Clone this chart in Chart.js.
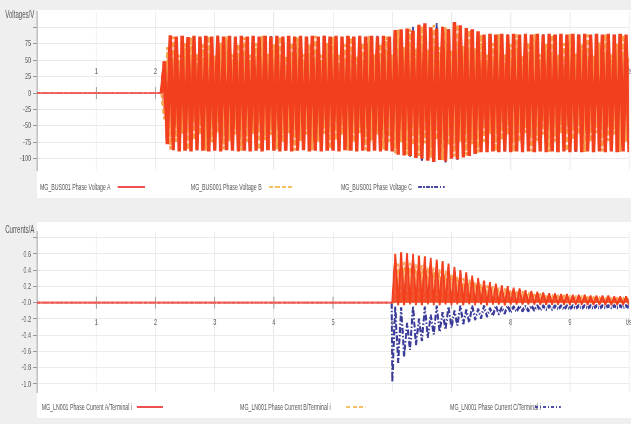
<!DOCTYPE html>
<html><head><meta charset="utf-8">
<script src="https://cdn.jsdelivr.net/npm/chart.js@4.4.1/dist/chart.umd.min.js"></script>
<style>
html,body{margin:0;padding:0;background:#efefef;width:631px;height:424px;overflow:hidden;}
#wrap{position:absolute;left:0;top:0;width:1088px;height:424px;transform:scaleX(0.579963);transform-origin:0 0;font-family:'Liberation Sans',Arial,sans-serif;color:#555;}
.panel{position:absolute;background:#fff;}
.lbl{position:absolute;font-size:9px;line-height:10px;white-space:nowrap;color:#555;}
.ttl{position:absolute;font-size:10.5px;line-height:12px;white-space:nowrap;color:#555;}
.sw{position:absolute;height:2px;}
.sA{background:#ee5050;}
.sB{background:repeating-linear-gradient(90deg,#f5c060 0 7px,rgba(255,255,255,0) 7px 11px);}
.sC{background:repeating-linear-gradient(90deg,#4a4aa8 0 6px,rgba(255,255,255,0) 6px 9px,#4a4aa8 9px 11px,rgba(255,255,255,0) 11px 14px);}
canvas{position:absolute;left:0;}
</style></head>
<body>
<div id="wrap">
  <div class="panel" style="left:64px;top:10px;width:1024px;height:188px;"></div>
  <div class="panel" style="left:64px;top:222px;width:1024px;height:196px;"></div>
  <div class="ttl" style="left:9px;top:8px;">Voltages/V</div>
  <div class="ttl" style="left:9px;top:223px;">Currents/A</div>
  <canvas id="cv" width="1088" height="200" style="top:0;"></canvas>
  <canvas id="ci" width="1088" height="206" style="top:218px;"></canvas>
  <div class="lbl" style="left:69px;top:182px;">MG_BUS001 Phase Voltage A</div>
  <div class="sw sA" style="left:203px;top:186px;width:47px;"></div>
  <div class="lbl" style="left:329px;top:182px;">MG_BUS001 Phase Voltage B</div>
  <div class="sw sB" style="left:464px;top:186px;width:43px;"></div>
  <div class="lbl" style="left:588px;top:182px;">MG_BUS001 Phase Voltage C</div>
  <div class="sw sC" style="left:721px;top:186px;width:46px;"></div>
  <div class="lbl" style="left:72px;top:402px;">MG_LN001 Phase Current A/Terminal i</div>
  <div class="sw sA" style="left:236px;top:406px;width:45px;"></div>
  <div class="lbl" style="left:414px;top:402px;">MG_LN001 Phase Current B/Terminal i</div>
  <div class="sw sB" style="left:597px;top:406px;width:33px;"></div>
  <div class="lbl" style="left:776px;top:402px;">MG_LN001 Phase Current C/Terminal i</div>
  <div class="sw sC" style="left:922px;top:406px;width:45px;"></div>
</div>
<script>
// ---------- data ----------
const xTicks = [1,2,3,4,5,6,7,8,9,10];
const yTicksV = [-100,-75,-50,-25,0,25,50,75,100];
const yTicksI = [-1.0,-0.8,-0.6,-0.4,-0.2,0,0.2,0.4,0.6,0.8];

const tV = [0,
2.10,2.15,2.20,2.25,2.30,2.35,2.40,2.45,2.50,2.55,2.60,2.65,2.70,2.75,2.80,2.85,2.90,2.95,
3.00,3.05,3.10,3.15,3.20,3.25,3.30,3.35,3.40,3.45,3.50,3.55,3.60,3.65,3.70,3.75,3.80,3.85,3.90,3.95,
4.00,4.05,4.10,4.15,4.20,4.25,4.30,4.35,4.40,4.45,4.50,4.55,4.60,4.65,4.70,4.75,4.80,4.85,4.90,4.95,
5.00,5.05,5.10,5.15,5.20,5.25,5.30,5.35,5.40,5.45,5.50,5.55,5.60,5.65,5.70,5.75,5.80,5.85,5.90,5.95,
6.00,6.05,6.10,6.15,6.20,6.25,6.30,6.35,6.40,6.45,6.50,6.55,6.60,6.65,6.70,6.75,6.80,6.85,6.90,6.95,
7.00,7.05,7.10,7.15,7.20,7.25,7.30,7.35,7.40,7.45,7.50,7.55,7.60,7.65,7.70,7.75,7.80,7.85,7.90,7.95,
8.00,8.05,8.10,8.15,8.20,8.25,8.30,8.35,8.40,8.45,8.50,8.55,8.60,8.65,8.70,8.75,8.80,8.85,8.90,8.95,
9.00,9.05,9.10,9.15,9.20,9.25,9.30,9.35,9.40,9.45,9.50,9.55,9.60,9.65,9.70,9.75,9.80,9.85,9.90,9.95,
10.00];

const vA = [0,
0,48,-78,88,
-87,86,-89,87,-88,85,-89,87,-87,86,
-88,87,-89,86,-88,87,-89,86,-87,87,
-88,86,-89,87,-88,86,-89,87,-88,86,
-89,87,-87,86,-88,87,-89,86,-88,87,
-89,86,-88,87,-87,86,-89,87,-88,86,
-89,87,-88,86,-88,87,-89,86,-87,87,
-88,86,-89,87,-88,86,-89,87,-88,86,
-89,87,-88,86,-89,
96,-94,97,-95,98,-96,95,-99,104,-100,106,-103,100,-105,98,-102,101,-104,97,-100,108,-101,103,-98,99,-96,97,-93,94,
-90,89,-90,90,-89,89,-90,90,-89,89,
-90,90,-89,89,-90,90,-89,89,-90,90,
-89,89,-90,90,-89,89,-90,90,-89,89,
-90,90,-89,89,-90,90,-89,89,-90,90,
-89,89,-90,90,-89,89,-90,90,-89,89,
-90];

const vB = [0,
0,-40,70,-86,
86,-74,58,-62,76,-87, 85,-72,60,-64,74,-88, 87,-75,57,-61,77,-86, 86,-73,59,-63,75,-88,
85,-74,58,-62,76,-87, 87,-72,60,-64,74,-86, 86,-75,57,-61,77,-88, 85,-73,59,-63,75,-87,
87,-74,58,-62,76,-86, 86,-72,60,-64,74,-88, 85,-75,57,-61,77,-87, 87,-73,59,-63,75,-86,
86,-74,58,
-92,97,-75,70,-94,98,-80,68,-96,102,-77,66,-99,104,-72,70,-102,100,-80,66,-97,105,-74,72,-95,96,-78,68,-91,
89,-74,58,-62,76,-89, 90,-72,60,-64,74,-90, 89,-75,57,-61,77,-89, 90,-73,59,-63,75,-90,
89,-74,58,-62,76,-89, 90,-72,60,-64,74,-90, 89,-75,57,-61,77,-89, 90,-73,59,-63,75,-90,
89,-74,58];

const vC = [0,
0,-10,20,60,
-30,64,-87,86,-62,28, -32,63,-88,85,-60,30, -31,65,-86,87,-63,27, -33,62,-88,86,-61,29,
-30,64,-87,85,-62,28, -34,63,-86,87,-60,30, -31,65,-88,86,-63,27, -33,62,-87,85,-61,29,
-30,64,-86,87,-62,28, -32,63,-88,86,-60,30, -31,65,-87,85,-63,27, -33,62,-86,87,-61,29,
-30,64,-88,
60,-90,96,-58,35,-97,101,-70,42,-104,103,-66,38,-100,107,-72,45,-106,99,-61,37,-103,100,-64,40,-95,94,-60,33,
-30,64,-89,90,-62,28, -32,63,-90,89,-60,30, -31,65,-89,90,-63,27, -33,62,-90,89,-61,29,
-30,64,-89,90,-62,28, -34,63,-90,89,-60,30, -31,65,-89,90,-63,27, -33,62,-90,89,-61,29,
-30,64,-89];

const tI = [0,5.99,
6.00,6.05,6.10,6.15,6.20,6.25,6.30,6.35,6.40,6.45,6.50,6.55,6.60,6.65,6.70,6.75,6.80,6.85,6.90,6.95,
7.00,7.05,7.10,7.15,7.20,7.25,7.30,7.35,7.40,7.45,7.50,7.55,7.60,7.65,7.70,7.75,7.80,7.85,7.90,7.95,
8.00,8.05,8.10,8.15,8.20,8.25,8.30,8.35,8.40,8.45,8.50,8.55,8.60,8.65,8.70,8.75,8.80,8.85,8.90,8.95,
9.00,9.05,9.10,9.15,9.20,9.25,9.30,9.35,9.40,9.45,9.50,9.55,9.60,9.65,9.70,9.75,9.80,9.85,9.90,9.95,
10.00];

const iA = [0,0,
0,.60,-.03,.62,-.03,.61,-.02,.60,-.03,.58,
-.03,.57,-.02,.55,-.03,.53,-.03,.51,-.02,.48,
-.03,.44,-.02,.40,-.03,.37,-.02,.33,-.03,.30,
-.02,.27,-.03,.25,-.02,.23,-.02,.21,-.03,.20,
-.02,.18,-.02,.17,-.02,.15,-.02,.14,-.02,.13,
-.02,.12,-.02,.11,-.02,.11,-.02,.10,-.02,.10,
-.02,.09,-.02,.09,-.02,.09,-.02,.08,-.02,.08,
-.02,.08,-.02,.08,-.02,.07,-.02,.07,-.02,.07,
-.02];

const iB = [0,0,
0,.02,.48,.00,.50,.01,.49,.00,.47,.01,
.46,.00,.44,.01,.43,.00,.41,.01,.39,.00,
.36,.01,.33,.00,.30,.01,.28,.00,.26,.01,
.23,.00,.21,.01,.20,.00,.18,.01,.17,.00,
.16,.01,.15,.00,.14,.01,.13,.00,.12,.01,
.11,.00,.10,.01,.10,.00,.09,.01,.09,.00,
.08,.01,.08,.00,.08,.01,.07,.00,.07,.01,
.07,.00,.07,.01,.06,.00,.06,.01,.06,.00,
.06];

const iC = [0,0,
-.98,-.05,-.74,-.06,-.66,-.25,-.58,-.04,-.52,-.20,
-.47,-.05,-.43,-.15,-.39,-.04,-.36,-.12,-.33,-.05,
-.31,-.10,-.28,-.04,-.26,-.09,-.24,-.04,-.21,-.08,
-.19,-.04,-.17,-.07,-.16,-.04,-.14,-.06,-.13,-.04,
-.12,-.05,-.11,-.04,-.10,-.05,-.10,-.04,-.09,-.04,
-.09,-.04,-.08,-.04,-.08,-.04,-.08,-.04,-.08,-.04,
-.08,-.04,-.07,-.04,-.07,-.04,-.07,-.04,-.07,-.04,
-.07,-.04,-.06,-.04,-.06,-.04,-.06,-.04,-.06,-.04,
-.06];

// ---------- chart building ----------
const FONT = {family:"'Liberation Sans',Arial,sans-serif", size:9.5};
const RED='#f2401f', ORANGE='#f7a24a', BLUE='#3b3b9a';
function pts(t,v){return t.map((x,i)=>({x:x,y:v[i]}));}
const flat = ctx => ctx.p0.parsed.y===0 && ctx.p1.parsed.y===0;

const crossTicks = {
  id:'crossTicks',
  beforeDatasetsDraw(chart){
    const {ctx, scales:{x,y}} = chart;
    const y0 = y.getPixelForValue(0);
    ctx.save(); ctx.strokeStyle='#a0a0a0'; ctx.lineWidth=1.8;
    x.ticks.forEach(t=>{
      if (t.value>=10) return;
      const px = x.getPixelForValue(t.value);
      ctx.beginPath(); ctx.moveTo(px,y0-6); ctx.lineTo(px,y0+6); ctx.stroke();
    });
    ctx.restore();
  }
};

function ds(t, v, color, width, dash, fillColor){
  return {data:pts(t,v), borderColor:color, borderWidth:width, borderDash:dash, pointRadius:0, tension:0,
    borderJoinStyle:'bevel',
    fill: fillColor ? 'origin' : false, backgroundColor: fillColor || 'transparent',
    segment:{borderWidth:c=>flat(c)?1.6:width, borderColor:c=>flat(c)?'#ee5b55':color}};
}

function makeChart(id, t, a, b, c, yMin, yMax, yTicks, yFmt, xPad, padTop, padBottom, fills, widths){
  return new Chart(document.getElementById(id), {
    type:'line',
    data:{datasets:[
      ds(t,a,RED,widths[0],[],fills[0]),
      ds(t,b,ORANGE,widths[1],[5,3],fills[1]),
      ds(t,c,BLUE,widths[2],[6,2,1.5,2],fills[2])
    ]},
    options:{
      responsive:false, animation:false, events:[],
      layout:{padding:{left:0,right:3.4,top:padTop,bottom:padBottom}},
      plugins:{legend:{display:false}, tooltip:{enabled:false}, filler:{propagate:false}},
      scales:{
        x:{type:'linear', min:0, max:10, position:{y:0},
          afterBuildTicks:s=>{s.ticks=xTicks.map(v=>({value:v}));},
          afterFit:s=>{s.paddingLeft=0;s.paddingRight=0;},
          border:{display:false},
          grid:{color:'#e9e9e9', lineWidth:1.5, drawTicks:false},
          ticks:{font:FONT, color:'#666', padding:xPad, maxRotation:0, autoSkip:false,
            callback:v=> v===10?'t/s':String(v)}},
        y:{type:'linear', min:yMin, max:yMax,
          afterBuildTicks:s=>{s.ticks=yTicks.map(v=>({value:v}));},
          afterFit:s=>{s.width=64;s.paddingTop=0;s.paddingBottom=0;},
          border:{display:true,color:'#a8a8a8',width:1.8},
          grid:{color:'#ebebeb', tickColor:'#999', tickLength:7, tickWidth:1},
          ticks:{font:FONT, color:'#666', padding:3.5, autoSkip:false, callback:yFmt}}
      }
    },
    plugins:[crossTicks]
  });
}

makeChart('cv', tV, vA, vB, vC, -117.4, 123.5, yTicksV,
  v=> v>=100 ? '' : String(v), -27, 12, 30,
  ['rgba(242,64,31,0.82)','rgba(248,120,80,0.85)',null], [6, 4, 3.2]);
makeChart('ci', tI, iA, iB, iC, -1.10, 0.87, yTicksI,
  v=> v>0.7 ? '' : (Math.abs(v)<1e-9 ? '-0.0' : v.toFixed(1)), 14, 14, 32,
  ['rgba(242,64,31,0.85)','rgba(248,160,90,0.75)',null], [3.2, 2.8, 3.6]);
</script>
</body></html>
